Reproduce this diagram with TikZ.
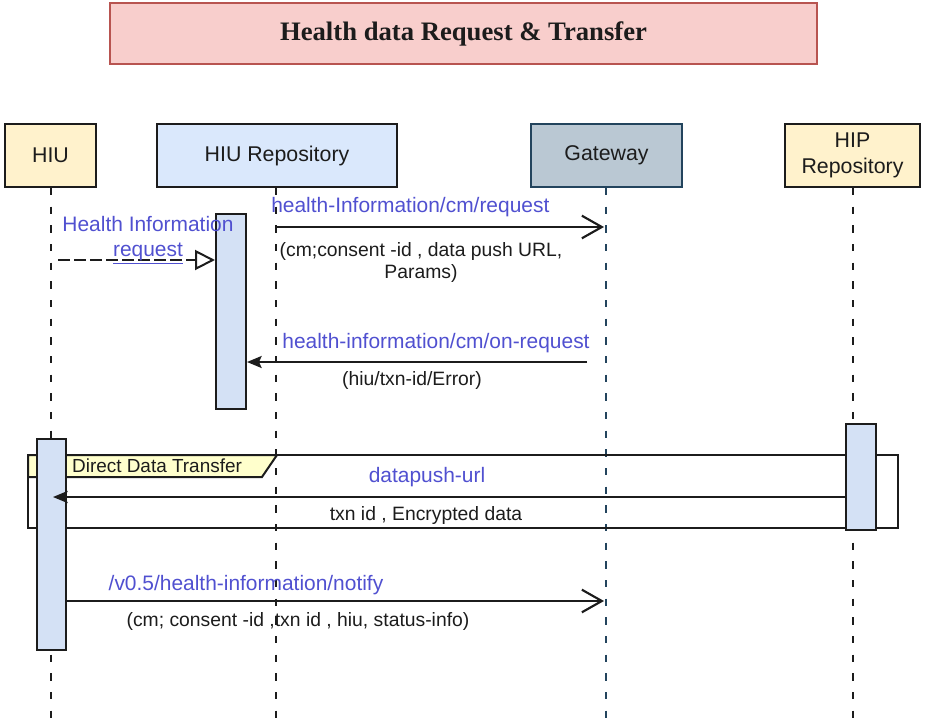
\documentclass[tikz,border=0pt]{standalone}
\usepackage{fontspec}
\setmainfont{Liberation Sans}
\newfontfamily\titlefont{Liberation Serif}
\usetikzlibrary{arrows.meta}
\definecolor{titlefill}{HTML}{F8CECC}
\definecolor{titledraw}{HTML}{B85450}
\definecolor{yfill}{HTML}{FFF2CC}
\definecolor{bfill}{HTML}{DAE8FC}
\definecolor{actfill}{HTML}{D4E1F5}
\definecolor{gfill}{HTML}{BAC8D3}
\definecolor{gdraw}{HTML}{23445D}
\definecolor{msgblue}{HTML}{5050D0}
\definecolor{txt}{HTML}{1C1C1C}
\definecolor{framefill}{HTML}{FFFFCC}
\begin{document}
\begin{tikzpicture}[x=0.75pt,y=-0.75pt,
  actor/.style={draw=txt, line width=1.5pt, minimum height=47.25pt, inner sep=0pt, align=center,
    text=txt, font=\fontsize{16}{19}\selectfont},
  actbar/.style={draw=txt, line width=1.5pt, fill=actfill, inner sep=0pt, minimum width=22.5pt},
  lifeline/.style={draw=txt, line width=1.6pt, dash pattern=on 5.5pt off 8.5pt},
  msg/.style={draw=txt, line width=1.5pt},
  openarrow/.style={msg, -{Straight Barb[length=15pt,width=17pt,line width=1.6pt]}},
  fillarrow/.style={msg, -{Stealth[length=11pt,width=9pt,inset=2pt]}},
  dasharrow/.style={msg, dash pattern=on 9pt off 3pt, -{Triangle[open,length=15pt,width=15pt,line width=1.5pt]}},
  bluelbl/.style={text=msgblue, inner sep=0pt, font=\fontsize{15.7}{19}\selectfont},
  blklbl/.style={text=txt, inner sep=0pt, align=center, font=\fontsize{14.5}{16}\selectfont}
]
\useasboundingbox (0,0) rectangle (936,721);

% title
\node[draw=titledraw, fill=titlefill, line width=1.5pt, minimum width=530.25pt, minimum height=45.75pt,
      font=\titlefont\bfseries\fontsize{20}{24}\selectfont, text=txt] (title) at (463.5,33.5) {Health data Request \& Transfer};

% actors
\node[actor, fill=yfill, minimum width=68.25pt] (hiu) at (50.5,155.5) {HIU};
\node[actor, fill=bfill, minimum width=180pt] (repo) at (277,155.5) {HIU Repository};
\node[actor, fill=gfill, draw=gdraw, minimum width=113.25pt] (gw) at (606.5,155.5) {Gateway};
\node[actor, fill=yfill, minimum width=101.25pt] (hip) at (852.5,155.5) {HIP\\Repository};

% lifeline ends
\coordinate (hiuEnd) at (51,721);
\coordinate (repoEnd) at (276,721);
\coordinate (gwEnd) at (606,721);
\coordinate (hipEnd) at (853,721);

\draw[lifeline] (hiu.south -| hiuEnd) -- (hiuEnd);
\draw[lifeline] (repo.south -| repoEnd) -- (repoEnd);
\draw[lifeline, draw=gdraw] (gw.south -| gwEnd) -- (gwEnd);
\draw[lifeline] (hip.south -| hipEnd) -- (hipEnd);

% frame
\coordinate (frTL) at (28,455);
\coordinate (frBR) at (898,528);
\draw[line width=1.5pt, draw=txt] (frTL) rectangle (frBR);
\draw[line width=1.5pt, draw=txt, fill=framefill] (28,455) -- (277,455) -- (262,477) -- (28,477) -- cycle;
\node[text=txt, inner sep=0pt, font=\fontsize{14.2}{16}\selectfont] (frlbl) at (157,466) {Direct Data Transfer};

% activation bars
\node[actbar, minimum height=146.25pt] (repoAct) at (231,311.5) {};
\node[actbar, minimum width=21.75pt, minimum height=158.25pt] (hiuAct) at (51.5,544.5) {};
\node[actbar, minimum height=79.5pt] (hipAct) at (861,477) {};

% message 1: dashed HIU -> HIU repository
\coordinate (m1s) at (58,260);
\draw[dasharrow] (m1s) -- (repoAct.west |- m1s);
\node[bluelbl, align=center] (m1lbl) at (148,240) {Health Information\\\underline{request}};

% message 2: repo -> gateway
\coordinate (m2s) at (276,227);
\coordinate (m2e) at (604,227);
\draw[openarrow] (m2s) -- (m2e);
\node[bluelbl, anchor=west] (m2lbl) at (271,207) {health-Information/cm/request};
\node[blklbl] (m2sub) at (421,262.5) {(cm;consent -id , data push URL,\\Params)};

% message 3: gateway -> repo
\coordinate (m3s) at (587,362);
\draw[fillarrow] (m3s) -- (repoAct.east |- m3s);
\node[bluelbl] (m3lbl) at (436,343) {health-information/cm/on-request};
\node[blklbl] (m3sub) at (412,380) {(hiu/txn-id/Error)};

% message 4: HIP -> HIU datapush
\coordinate (m4e) at (53,497);
\draw[fillarrow] (hipAct.west |- m4e) -- (m4e);
\node[bluelbl] (m4lbl) at (427,477) {datapush-url};
\node[blklbl] (m4sub) at (426,515.5) {txn id , Encrypted data};

% message 5: notify
\coordinate (m5e) at (604,601);
\draw[openarrow] (hiuAct.east |- m5e) -- (m5e);
\node[bluelbl] (m5lbl) at (246,585) {/v0.5/health-information/notify};
\node[blklbl] (m5sub) at (298,621) {(cm; consent -id ,txn id , hiu, status-info)};
\end{tikzpicture}
\end{document}
